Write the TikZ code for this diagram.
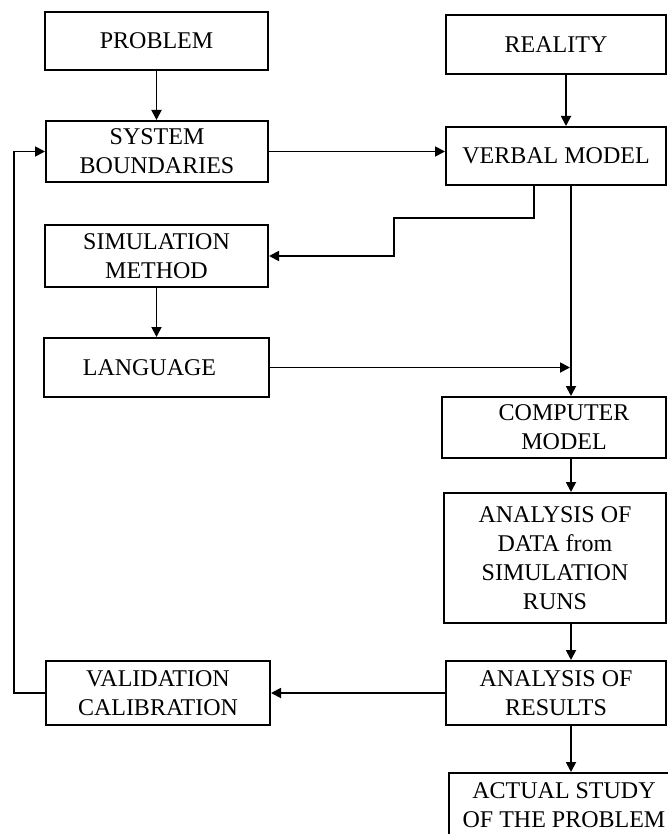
\documentclass[tikz,border=0pt]{standalone}
\usepackage{fontspec}
\setmainfont{Liberation Serif}
\usetikzlibrary{arrows.meta}
\begin{document}
\begin{tikzpicture}[x=1pt,y=-1pt,
  box/.style={draw=black,line width=2pt,rectangle,align=center,inner sep=0pt,
    font=\fontsize{24}{29}\selectfont},
  arr/.style={line width=1.8pt,-{Triangle[length=10pt,width=10pt]}},
  ln/.style={line width=1.8pt}]
\clip (0,0) rectangle (668,834);
\fill[white] (0,0) rectangle (668,834);
\coordinate (col) at (571,0);
\coordinate (fb) at (14,0);
% left column
\node[box,minimum width=223pt,minimum height=58pt] (prob) at (156.5,41) {PROBLEM};
\node[box,minimum width=222pt,minimum height=61pt] (sb) at (157,151.5) {SYSTEM\\BOUNDARIES};
\node[box,minimum width=223pt,minimum height=62pt] (sm) at (156.5,256) {SIMULATION\\METHOD};
\node[box,minimum width=225pt,minimum height=59pt] (lang) at (156.5,367.5) {\hspace*{-14pt}LANGUAGE};
\node[box,minimum width=224pt,minimum height=64pt] (val) at (158,693) {VALIDATION\\CALIBRATION};
% right column
\node[box,minimum width=220pt,minimum height=59pt] (real) at (556,44.5) {REALITY};
\node[box,minimum width=220pt,minimum height=58pt] (vm) at (556,156) {VERBAL MODEL};
\node[box,minimum width=224pt,minimum height=61pt] (cm) at (554,427.5) {\hspace*{20pt}COMPUTER\\\hspace*{20pt}MODEL};
\node[box,minimum width=222pt,minimum height=130pt] (ad) at (555,558) {ANALYSIS OF\\DATA from\\SIMULATION\\RUNS};
\node[box,minimum width=220pt,minimum height=64pt] (ar) at (556,693) {ANALYSIS OF\\RESULTS};
\node[box,minimum width=230pt,minimum height=64pt] (as) at (564,805) {ACTUAL STUDY\\OF THE PROBLEM};
% connectors
\draw[arr] (prob.south) -- (prob.south |- sb.north);
\draw[arr] ([xshift=10pt]real.south) -- ([xshift=10pt]vm.north);
\draw[arr] (sb.east) -- (sb.east -| vm.west);
\draw[arr] ([xshift=-22pt]vm.south) -- ++(0,32) -| (394,256) -- (sm.east);
\draw[arr] (sm.south) -- (lang.north);
\draw[arr] (vm.south -| col) -- (cm.north -| col);
\draw[arr,shorten >=1pt] (lang.east) -- (lang.east -| col);
\draw[arr] (cm.south -| col) -- (ad.north -| col);
\draw[arr] (ad.south -| col) -- (ar.north -| col);
\draw[arr] (ar.west) -- (val.east);
\draw[arr] (ar.south -| col) -- (as.north -| col);
\draw[arr] (val.west) -- (val.west -| fb) |- (sb.west);
\end{tikzpicture}
\end{document}
